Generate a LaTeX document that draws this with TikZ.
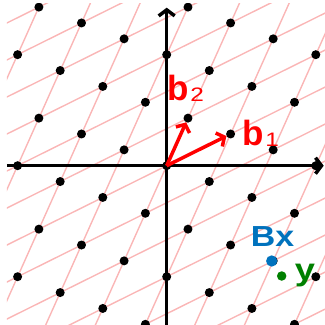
\documentclass[tikz,border=0pt]{standalone}
\usepackage{fontspec}
\setmainfont{Liberation Sans}
\usetikzlibrary{arrows.meta}
\definecolor{gridPink}{RGB}{250,182,182}
\definecolor{basisRed}{RGB}{255,0,0}
\definecolor{bxBlue}{RGB}{0,114,189}
\definecolor{yGreen}{RGB}{0,128,0}
\newcommand{\widetext}[1]{\scalebox{1.17}[1]{#1}}
\newcommand{\subnum}[1]{\kern1pt{\fontsize{19.5}{19.5}\selectfont\mdseries\raisebox{-1pt}{\scalebox{1.25}[1]{#1}}}}

\begin{document}
\begin{tikzpicture}[
  x=21.3pt, y=15.86pt,
  dot/.style={circle, fill=black, minimum size=9pt, inner sep=0pt},
  gridline/.style={gridPink, line width=1.4pt},
  axis/.style={line width=3.5pt, -{Straight Barb[length=6pt, width=16pt]}},
  basis/.style={basisRed, line width=3.5pt, -{Straight Barb[length=6pt, width=15pt]}},
  vlabel/.style={anchor=base west, inner sep=0pt, font=\fontsize{35}{40}\selectfont\bfseries}
]
  \useasboundingbox (-166.7pt,-159.3pt) rectangle (158.3pt,165.7pt);
  \begin{scope}
    \clip (-159.7pt,-159.3pt) rectangle (158.3pt,162.7pt);
    % lattice lines along b1 and b2
    \foreach \k in {-8,...,8} {
      \draw[gridline] ({\k-36},{3*\k-24}) -- ({\k+36},{3*\k+24});
      \draw[gridline] ({3*\k-12},{2*\k-36}) -- ({3*\k+12},{2*\k+36});
    }
    % axes
    \coordinate (o) at (0,0);
    \coordinate (xstart) at (-159.7pt,0);
    \coordinate (xend) at (157pt,0);
    \coordinate (ystart) at (0,-162pt);
    \coordinate (yend) at (0,158pt);
    \draw[axis] (xstart) -- (xend);
    \draw[axis] (ystart) -- (yend);
    % lattice points
    \foreach \a in {-6,...,6}
      \foreach \b in {-6,...,6}
        \node[dot] (p\a\b) at ({3*\a+\b},{2*\a+3*\b}) {};
  \end{scope}
  % basis vectors
  \draw[basis] (o) -- (p10);
  \draw[basis] (o) -- (p01);
  \node[vlabel, basisRed] (b1lab) at (76pt,20.7pt) {b\subnum{1}};
  \node[vlabel, basisRed] (b2lab) at (1pt,65.7pt) {b\subnum{2}};
  % target points
  \node[circle, fill=bxBlue, minimum size=11.3pt, inner sep=0pt] (bx) at (105pt,-95.3pt) {};
  \node[circle, fill=yGreen, minimum size=9.5pt, inner sep=0pt] (y) at (115pt,-110.3pt) {};
  \node[vlabel, bxBlue, font=\fontsize{29}{34}\selectfont\bfseries] (bxlab) at (84pt,-80.9pt) {\widetext{Bx}};
  \node[vlabel, yGreen, font=\fontsize{31}{36}\selectfont\bfseries] (ylab) at (128pt,-114.3pt) {\widetext{y}};
\end{tikzpicture}
\end{document}
